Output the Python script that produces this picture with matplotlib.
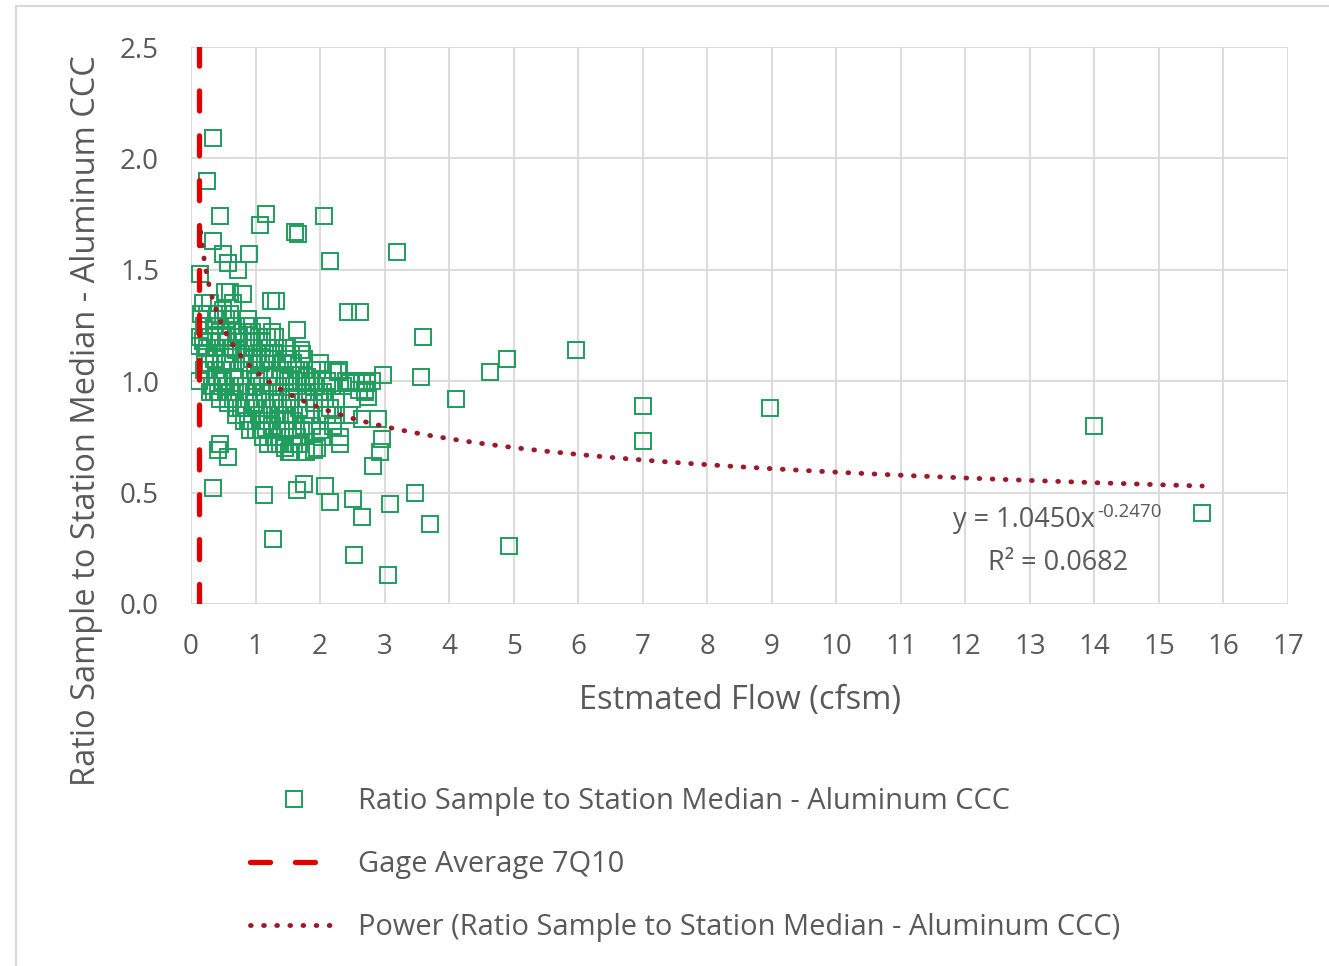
import matplotlib
matplotlib.use("Agg")
import matplotlib.pyplot as plt
import numpy as np
from matplotlib.lines import Line2D
from matplotlib.patches import Rectangle

# ---------------- data ----------------
outlier_x = [0.34, 0.25, 0.45, 1.16, 1.07, 2.06, 1.61, 1.66, 0.34, 3.19, 0.90, 0.50,
             2.16, 0.57, 0.73, 0.14, 0.81, 0.53, 0.60, 1.24, 1.32, 2.43, 2.62, 3.60,
             1.64, 5.97, 4.90, 4.64, 2.98, 3.57, 4.11, 7.00, 8.98, 14.00, 7.00, 15.67,
             4.93, 3.71, 3.47, 3.09, 3.05, 2.53, 2.65, 2.51, 2.16, 2.08, 1.75, 1.64,
             1.27, 1.13, 0.34, 2.96, 2.93, 2.82, 2.90, 2.65, 2.31, 2.31, 1.78, 1.91,
             2.03, 0.57, 0.45, 0.42, 0.12, 0.12, 2.73, 2.70, 2.46, 2.28]
outlier_y = [2.09, 1.90, 1.74, 1.75, 1.70, 1.74, 1.67, 1.66, 1.63, 1.58, 1.57, 1.57,
             1.54, 1.53, 1.50, 1.48, 1.39, 1.40, 1.40, 1.36, 1.36, 1.31, 1.31, 1.20,
             1.23, 1.14, 1.10, 1.04, 1.03, 1.02, 0.92, 0.89, 0.88, 0.80, 0.73, 0.41,
             0.26, 0.36, 0.50, 0.45, 0.13, 0.22, 0.39, 0.47, 0.46, 0.53, 0.54, 0.51,
             0.29, 0.49, 0.52, 0.74, 0.68, 0.62, 0.83, 0.83, 0.75, 0.72, 0.68, 0.69,
             0.75, 0.66, 0.72, 0.69, 1.00, 1.16, 0.99, 0.96, 0.99, 1.04]

cluster_x = [0.14, 0.18, 0.20, 0.22, 0.25, 0.28, 0.30, 0.32, 0.35, 0.38, 0.40, 0.42,
             0.45, 0.48, 0.50, 0.52, 0.55, 0.58, 0.60, 0.62, 0.65, 0.68, 0.70, 0.72,
             0.75, 0.78, 0.80, 0.82, 0.85, 0.88, 0.90, 0.92, 0.95, 0.98, 1.00, 1.02,
             1.05, 1.08, 1.10, 1.12, 1.15, 1.18, 1.20, 1.22, 1.25, 1.28, 1.30, 1.32,
             1.35, 1.38, 1.40, 1.42, 1.45, 1.48, 1.50, 1.52, 1.55, 1.58, 1.60, 1.62,
             1.65, 1.68, 1.70, 1.72, 1.75, 1.78, 1.80, 1.85, 1.90, 1.95, 2.00, 2.05,
             2.10, 2.15, 2.20, 2.25, 2.35, 2.45, 2.55, 2.70,
             0.30, 0.40, 0.55, 0.65, 0.75, 0.85, 0.95, 1.05, 1.15, 1.25, 1.35, 1.45,
             1.55, 1.65, 0.45, 0.60, 0.70, 0.80, 0.90, 1.00, 1.10, 1.20, 1.30, 1.40,
             1.50, 1.60, 1.70, 1.80, 0.50, 0.35, 0.25, 0.20, 0.60, 0.90, 1.10, 1.00,
             1.20, 1.45, 1.55, 1.65, 1.90, 2.00, 2.10, 1.30, 0.70, 0.55, 0.75, 0.85,
             0.95, 1.05, 1.15, 1.25, 1.35, 1.45, 1.55, 1.75, 1.85, 2.30, 2.40, 2.60,
             2.75, 2.80, 0.15, 0.18, 0.30, 0.42, 0.65, 1.25, 1.70, 1.75, 2.20, 1.95,
             0.35, 0.45, 0.55, 0.62, 0.72, 0.82, 0.88, 0.98, 1.08, 1.18, 1.28, 1.38,
             1.48, 1.58, 1.68, 1.78, 1.88, 1.98, 2.08, 2.18, 0.30, 0.38, 0.48, 0.58,
             0.68, 0.78, 0.88, 0.98, 1.08, 1.18, 1.28, 1.38, 1.48, 1.58, 1.68, 1.78,
             1.88, 2.25, 2.50, 2.65]
cluster_y = [1.20, 1.35, 1.25, 1.12, 1.30, 1.05, 1.20, 0.98, 1.10, 1.28, 1.15, 0.95,
             1.22, 1.05, 1.32, 1.12, 0.98, 1.18, 1.08, 1.25, 0.92, 1.02, 1.14, 0.88,
             1.20, 0.98, 1.08, 0.82, 1.15, 0.95, 1.05, 0.78, 1.22, 0.90, 1.00, 1.12,
             0.85, 0.95, 1.18, 0.75, 1.05, 0.88, 0.98, 1.10, 0.80, 0.92, 1.02, 0.72,
             1.15, 0.85, 0.95, 1.08, 0.78, 0.90, 1.00, 0.68, 1.12, 0.82, 0.95, 1.05,
             0.75, 0.88, 1.00, 1.12, 0.80, 0.92, 1.02, 0.85, 0.98, 1.05, 0.78, 0.95,
             1.00, 0.88, 1.05, 0.92, 0.98, 0.85, 1.00, 0.95,
             1.08, 1.02, 1.20, 1.12, 1.05, 0.98, 1.10, 1.02, 0.92, 1.05, 0.98, 1.02,
             0.92, 1.00, 0.92, 0.95, 0.85, 1.22, 1.18, 0.88, 0.82, 1.15, 0.85, 0.78,
             1.10, 0.72, 0.78, 0.95, 1.00, 0.95, 1.15, 1.05, 1.30, 1.25, 1.25, 0.78,
             0.72, 0.70, 0.68, 0.98, 0.90, 1.08, 0.85, 1.20, 1.25, 1.08, 0.95, 0.88,
             0.82, 1.20, 1.12, 0.98, 0.90, 0.85, 1.00, 1.05, 1.00, 1.05, 1.00, 0.96,
             0.93, 1.00, 1.30, 1.18, 1.35, 1.30, 1.35, 1.22, 1.14, 1.10, 0.80, 0.70,
             1.25, 1.18, 1.28, 1.15, 1.22, 1.12, 1.28, 1.15, 1.08, 1.20, 1.12, 1.05,
             1.15, 1.08, 1.05, 1.00, 1.05, 0.95, 0.92, 0.98, 0.95, 1.05, 0.98, 0.90,
             0.95, 0.88, 0.82, 0.95, 0.78, 0.82, 0.75, 0.72, 0.82, 0.75, 0.72, 0.85,
             0.80, 0.85, 0.92, 1.00]

gage_7q10 = 0.13
trend_a = 1.0450
trend_b = -0.2470
trend_x_range = [0.15, 15.67]

x_ticks = list(range(0, 18))
y_ticks = [0.0, 0.5, 1.0, 1.5, 2.0, 2.5]

# ---------------- style ----------------
FONT = ["Open Sans", "DejaVu Sans"]
plt.rcParams["font.family"] = FONT
TXT = "#595959"
GREEN = "#1f9d5c"
RED = "#e00000"
DARKRED = "#9b1b2a"
W, H = 1329, 966

fig = plt.figure(figsize=(W / 100, H / 100), dpi=100)
# outer chart border
fig.patches.append(Rectangle((16 / W, -0.01), 1.02, 1 - 6 / H + 0.01,
                             transform=fig.transFigure, fill=False,
                             edgecolor="#d9d9d9", linewidth=1.5))

ax = fig.add_axes([191 / W, 1 - 604 / H, (1288 - 191) / W, (604 - 47) / H])
ax.set_xlim(0, 17)
ax.set_ylim(0, 2.5)
ax.set_xticks(x_ticks)
ax.set_yticks(y_ticks)
ax.set_yticklabels([f"{v:.1f}" for v in y_ticks])
ax.grid(True, color="#d9d9d9", linewidth=1.3)
ax.set_axisbelow(True)
for s in ax.spines.values():
    s.set_visible(False)
ax.tick_params(length=0, labelsize=20, labelcolor=TXT)
ax.tick_params(axis="x", pad=21)
ax.tick_params(axis="y", pad=23)

sx = outlier_x + cluster_x
sy = outlier_y + cluster_y
MS = 11.3
ax.plot(sx, sy, linestyle="none", marker="s", markersize=MS,
        markerfacecolor="none", markeredgecolor=GREEN, markeredgewidth=1.4,
        zorder=3)

DASH = (0, (3.8, 4.7))
ax.plot([gage_7q10, gage_7q10], [0, 2.5], color=RED, linewidth=3.8,
        linestyle=DASH, zorder=4, dash_capstyle="round")

DOT = (0, (0.15, 2.55))
tx = np.linspace(trend_x_range[0], trend_x_range[1], 600)
ty = trend_a * tx ** trend_b
ax.plot(tx, ty, color=DARKRED, linewidth=3.5, linestyle=DOT,
        dash_capstyle="round", zorder=5)

fig.text(1095 / W, 1 - 520 / H, "y = 1.0450x", ha="right",
         va="center", fontsize=19.5, color=TXT)
fig.text(1097 / W, 1 - 512 / H, "-0.2470", ha="left",
         va="center", fontsize=13.5, color=TXT)
fig.text(1058 / W, 1 - 563 / H, "R² = 0.0682", ha="center", va="center",
         fontsize=19.5, color=TXT)

ax.set_xlabel("Estmated Flow (cfsm)", fontsize=23.5, color=TXT)
ax.xaxis.set_label_coords((740 - 191) / 1097, (604 - 684) / 557)
ax.set_ylabel("Ratio Sample to Station Median - Aluminum CCC", fontsize=23.5,
              color=TXT)
ax.yaxis.set_label_coords((103 - 191) / 1097, (604 - 421) / 557)

handles = [
    Line2D([], [], linestyle="none", marker="s", markersize=MS,
           markerfacecolor="none", markeredgecolor=GREEN, markeredgewidth=1.4),
    Line2D([], [], color=RED, linewidth=3.8, linestyle=DASH,
           dash_capstyle="round"),
    Line2D([], [], color=DARKRED, linewidth=3.5, linestyle=DOT,
           dash_capstyle="round"),
]
labels = ["Ratio Sample to Station Median - Aluminum CCC",
          "Gage Average 7Q10",
          "Power (Ratio Sample to Station Median - Aluminum CCC)"]
fig.legend(handles, labels, loc="upper left",
           bbox_to_anchor=(250 / W, 1 - 787 / H), frameon=False,
           fontsize=20.9, labelcolor=TXT, handlelength=3.0, handletextpad=0.72,
           labelspacing=1.17, borderpad=0, borderaxespad=0)

fig.savefig("out.png", dpi=100)
